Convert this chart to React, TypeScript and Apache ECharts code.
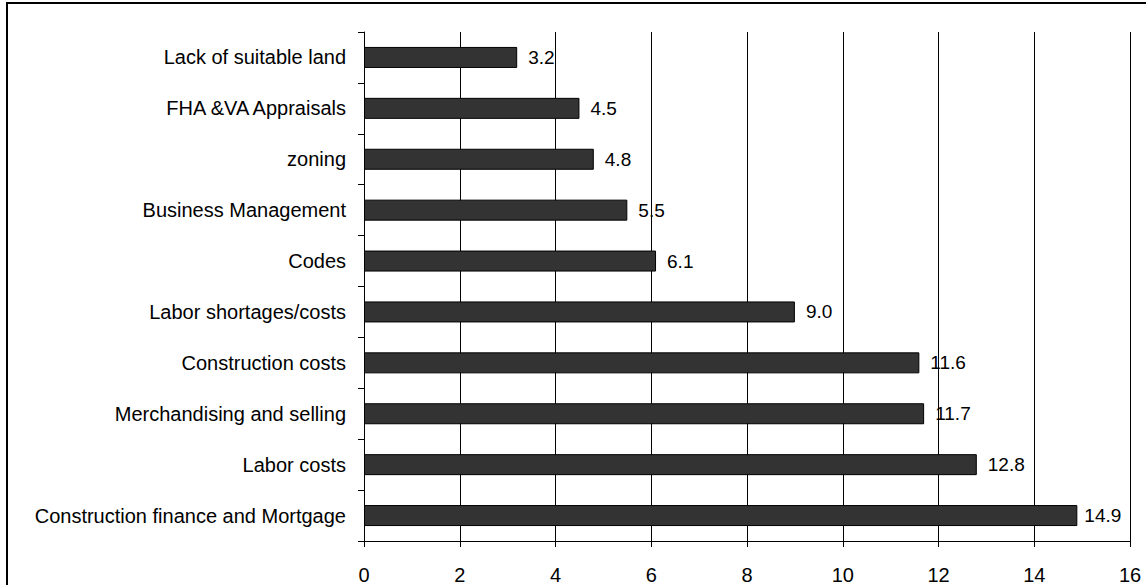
import React, { useEffect, useRef } from "react";
import * as echarts from "echarts";

const categories = [
  "Lack of suitable land",
  "FHA &VA Appraisals",
  "zoning",
  "Business Management",
  "Codes",
  "Labor shortages/costs",
  "Construction costs",
  "Merchandising and selling",
  "Labor costs",
  "Construction finance and Mortgage",
];
const values = [3.2, 4.5, 4.8, 5.5, 6.1, 9.0, 11.6, 11.7, 12.8, 14.9];
const xTicks = [0, 2, 4, 6, 8, 10, 12, 14, 16];

const FONT = "'Liberation Sans', Arial, sans-serif";

export default function App() {
  const ref = useRef<HTMLDivElement>(null);
  useEffect(() => {
    if (!ref.current) return;
    const chart = echarts.init(ref.current, null, { renderer: "svg" });
    const seriesData = values.map((v, i) =>
      i === values.length - 1 ? { value: v, label: { distance: 7 } } : { value: v }
    );
    chart.setOption({
      animation: false,
      backgroundColor: "#ffffff",
      graphic: [
        {
          type: "rect",
          shape: { x: 7, y: 3, width: 1300, height: 800 },
          style: { fill: "none", stroke: "#000", lineWidth: 2 },
          silent: true,
        },
      ],
      grid: { left: 364, top: 32, right: 16, bottom: 44, containLabel: false },
      xAxis: {
        type: "value",
        min: xTicks[0],
        max: xTicks[xTicks.length - 1],
        interval: 2,
        axisLine: { show: true, lineStyle: { color: "#000", width: 1 } },
        axisTick: { show: true, length: 6, lineStyle: { color: "#000" } },
        axisLabel: {
          color: "#000",
          fontSize: 20,
          fontFamily: FONT,
          margin: 24,
          formatter: (v: number) => String(v),
        },
        splitLine: { show: true, lineStyle: { color: "#000", width: 1 } },
      },
      yAxis: {
        type: "category",
        data: categories,
        inverse: true,
        axisLine: { show: true, lineStyle: { color: "#000", width: 1 } },
        axisTick: { show: true, length: 6, lineStyle: { color: "#000" } },
        axisLabel: {
          color: "#000",
          fontSize: 20,
          fontFamily: FONT,
          margin: 18,
        },
        splitLine: { show: false },
      },
      series: [
        {
          type: "bar",
          data: seriesData,
          barWidth: 21,
          itemStyle: { color: "#333333", borderColor: "#000", borderWidth: 1 },
          label: {
            show: true,
            position: "right",
            distance: 11,
            color: "#000",
            fontSize: 19,
            fontFamily: FONT,
            formatter: (p: any) => Number(p.value).toFixed(1),
          },
        },
      ],
    });
    return () => chart.dispose();
  }, []);
  return (
    <div
      ref={ref}
      style={{ position: "fixed", left: 0, top: 0, width: 1146, height: 585 }}
    />
  );
}
